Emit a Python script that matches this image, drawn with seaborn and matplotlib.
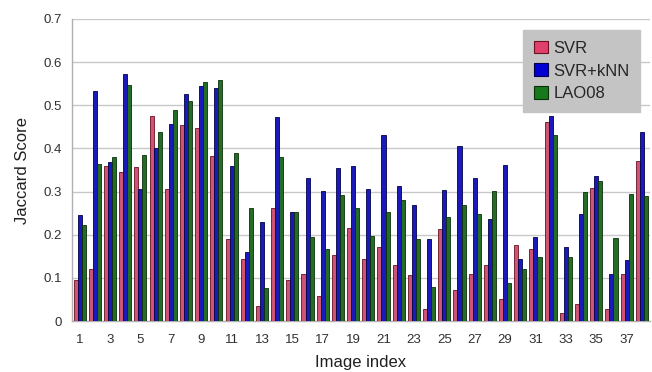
import numpy as np
import pandas as pd
import matplotlib
matplotlib.use("Agg")
import matplotlib.pyplot as plt
import seaborn as sns
from matplotlib.patches import Patch

image_index = list(range(1, 39))
svr = [0.095, 0.121, 0.360, 0.345, 0.356, 0.476, 0.305, 0.455, 0.448, 0.383,
       0.189, 0.143, 0.034, 0.263, 0.095, 0.110, 0.059, 0.153, 0.215, 0.144,
       0.171, 0.131, 0.107, 0.027, 0.213, 0.072, 0.110, 0.131, 0.051, 0.176,
       0.168, 0.461, 0.019, 0.040, 0.309, 0.029, 0.110, 0.372]
svr_knn = [0.246, 0.532, 0.368, 0.573, 0.305, 0.400, 0.457, 0.526, 0.545, 0.539,
           0.360, 0.160, 0.230, 0.472, 0.253, 0.331, 0.302, 0.354, 0.360, 0.305,
           0.432, 0.314, 0.269, 0.189, 0.303, 0.405, 0.331, 0.236, 0.362, 0.143,
           0.195, 0.476, 0.171, 0.249, 0.335, 0.108, 0.142, 0.438]
lao08 = [0.223, 0.365, 0.381, 0.548, 0.385, 0.438, 0.488, 0.510, 0.555, 0.558,
         0.389, 0.263, 0.076, 0.380, 0.253, 0.195, 0.166, 0.293, 0.262, 0.198,
         0.253, 0.280, 0.189, 0.080, 0.240, 0.270, 0.248, 0.301, 0.088, 0.120,
         0.148, 0.432, 0.149, 0.298, 0.324, 0.192, 0.295, 0.290]
series_names = ["SVR", "SVR+kNN", "LAO08"]
colors = ["#e2406c", "#0000d4", "#18791c"]
edges = ["#6a1020", "#00004a", "#0a300a"]

df = pd.DataFrame({
    "Image index": image_index * 3,
    "Jaccard Score": svr + svr_knn + lao08,
    "Method": [series_names[0]] * 38 + [series_names[1]] * 38 + [series_names[2]] * 38,
})

sns.set_style("white")
plt.rcParams["font.family"] = ["Liberation Sans", "DejaVu Sans"]

fig = plt.figure(figsize=(6.52, 3.72), dpi=100)
ax = fig.add_axes([0.1105, 0.137, 0.886, 0.812])

sns.barplot(data=df, x="Image index", y="Jaccard Score", hue="Method",
            hue_order=series_names, palette=colors, width=0.8,
            edgecolor="#333333", linewidth=0.6, ax=ax, legend=False, zorder=3)

n = len(image_index)
for i, patch in enumerate(ax.patches):
    s = i // n
    if s < 3:
        patch.set_edgecolor(edges[s])

ax.set_xlim(-0.5, n - 0.5 + 0.02)
ax.set_ylim(0, 0.7)
ax.set_yticks(np.arange(0, 0.71, 0.1))
ax.set_yticklabels(["0", "0.1", "0.2", "0.3", "0.4", "0.5", "0.6", "0.7"])
ax.yaxis.grid(True, color="#c8c8c8", linewidth=1.0, zorder=0)
ax.set_axisbelow(True)

ax.set_xticks(range(0, n, 2))
ax.set_xticklabels([str(v) for v in image_index[::2]])
ax.set_xticks(np.arange(-0.5, n, 1.0), minor=True)
ax.tick_params(axis="x", which="major", length=0, labelsize=9.5, colors="#303030", pad=9)
ax.tick_params(axis="x", which="minor", length=4, color="#b0b0b0", width=1)
ax.tick_params(axis="y", length=5, color="#b0b0b0", width=1, labelsize=9.5, labelcolor="#303030", pad=2)

for side in ["top", "right"]:
    ax.spines[side].set_visible(False)
for side in ["left", "bottom"]:
    ax.spines[side].set_color("#b0b0b0")
    ax.spines[side].set_linewidth(1)

ax.set_xlabel("Image index", fontsize=12, color="#202020", labelpad=7)
ax.set_ylabel("Jaccard Score", fontsize=12, color="#202020", labelpad=10)

handles = [Patch(facecolor=c, edgecolor=e, linewidth=0.8) for c, e in zip(colors, edges)]
leg = ax.legend(handles, series_names, loc="upper right", bbox_to_anchor=(0.984, 0.964),
                frameon=True, fancybox=False, fontsize=12, handlelength=0.8,
                handleheight=0.8, handletextpad=0.35, labelspacing=0.45,
                borderpad=0.65, borderaxespad=0)
leg.get_frame().set_facecolor("#c4c4c4")
leg.get_frame().set_edgecolor("#c4c4c4")
leg.get_frame().set_alpha(1)
leg.set_zorder(5)

fig.savefig("out.png", dpi=100)
